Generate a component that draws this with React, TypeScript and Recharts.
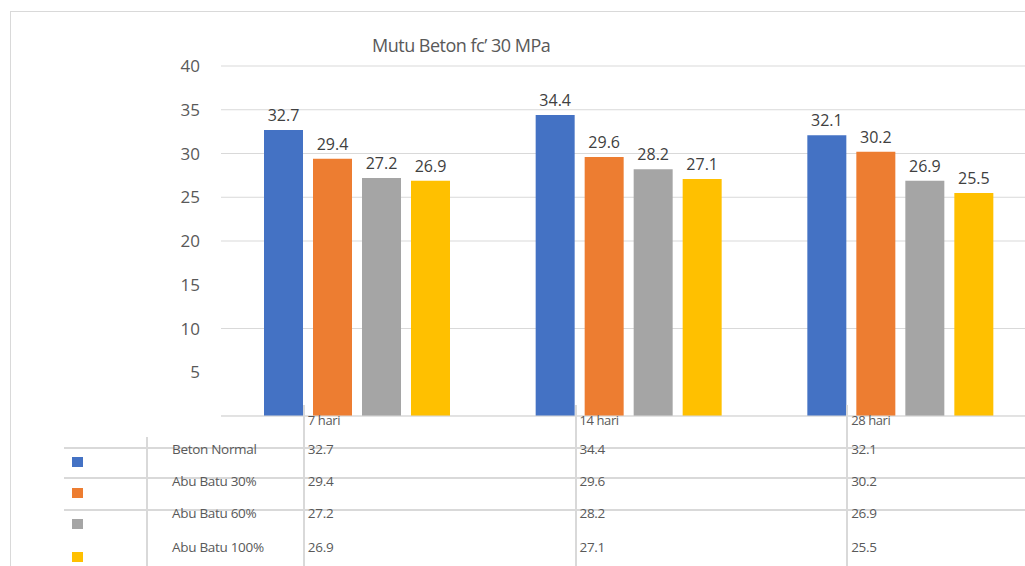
import { Bar, BarChart, CartesianGrid, LabelList, XAxis, YAxis } from "recharts";

const periods = ["7 hari", "14 hari", "28 hari"];
const seriesNames = ["Beton Normal", "Abu Batu 30%", "Abu Batu 60%", "Abu Batu 100%"];
const betonNormal = [32.7, 34.4, 32.1];
const abuBatu30 = [29.4, 29.6, 30.2];
const abuBatu60 = [27.2, 28.2, 26.9];
const abuBatu100 = [26.9, 27.1, 25.5];
const yTicks = [0, 5, 10, 15, 20, 25, 30, 35, 40];
const gridValues = [0, 10, 20, 25, 30, 35, 40];

const seriesValues = [betonNormal, abuBatu30, abuBatu60, abuBatu100];
const seriesKeys = ["normal", "abu30", "abu60", "abu100"];
const colors = ["#4472C4", "#ED7D31", "#A5A5A5", "#FFC000"];

const chartData = periods.map((period, i) => ({
  period,
  normal: betonNormal[i],
  abu30: abuBatu30[i],
  abu60: abuBatu60[i],
  abu100: abuBatu100[i],
}));

const CHART_W = 1040;
const PLOT_LEFT = 221;
const PLOT_RIGHT_MARGIN = 4;
const BAND = (CHART_W - PLOT_LEFT - PLOT_RIGHT_MARGIN) / periods.length;
// kolom tabel mulai sedikit di kiri tengah kategori
const columnLeft = (i: number) => PLOT_LEFT + (i + 0.5) * BAND - 54;

const FONT = "'Open Sans', 'Noto Sans', sans-serif";
const GRID = "#d9d9d9";
const rowTextTop = [440, 472, 504, 538];
const markerTop = [457, 488, 519, 552];

function PeriodTick(props: any) {
  const { x, y, payload } = props;
  return (
    <text x={x - 49} y={y + 7} fontSize={13} fill="#595959" fontFamily={FONT} letterSpacing={-0.4}>
      {payload.value}
    </text>
  );
}

export default function App() {
  return (
    <div style={{ position: "relative", width: 1025, height: 566, overflow: "hidden", background: "#fff", fontFamily: FONT }}>
      <style>{"body{margin:0}"}</style>
      <div style={{ position: "absolute", left: 10, top: 11, width: 1100, height: 600, borderLeft: `1px solid ${GRID}`, borderTop: `1px solid ${GRID}` }} />
      <div style={{ position: "absolute", left: 0, top: 0 }}>
        <BarChart
          width={CHART_W}
          height={566}
          data={chartData}
          margin={{ top: 66, right: PLOT_RIGHT_MARGIN, left: 0, bottom: 0 }}
          barSize={39}
          barGap={10}
        >
          <CartesianGrid vertical={false} stroke={GRID} horizontalValues={gridValues} />
          <XAxis
            dataKey="period"
            height={150}
            axisLine={{ stroke: GRID }}
            tickLine={false}
            tickSize={0}
            tick={<PeriodTick />}
          />
          <YAxis
            width={PLOT_LEFT}
            domain={[0, 40]}
            ticks={yTicks}
            interval={0}
            axisLine={false}
            tickLine={false}
            tickSize={0}
            tickMargin={21}
            tickFormatter={(v) => (v === 0 ? "" : String(v))}
            tick={{ fill: "#595959", fontSize: 17, fontFamily: FONT }}
          />
          {seriesKeys.map((key, i) => (
            <Bar key={key} dataKey={key} fill={colors[i]} name={seriesNames[i]} isAnimationActive={false}>
              <LabelList
                dataKey={key}
                position="top"
                offset={9}
                fill="#404040"
                fontSize={16}
                fontFamily={FONT}
              />
            </Bar>
          ))}
        </BarChart>
      </div>

      <div style={{ position: "absolute", left: 372, top: 33, fontSize: 18, color: "#595959", letterSpacing: -0.5, whiteSpace: "nowrap" }}>
        Mutu Beton fc’ 30 MPa
      </div>

      {[447, 477, 509].map((top) => (
        <div key={top} style={{ position: "absolute", left: 64, top, width: 1000, height: 0, borderTop: `2px solid ${GRID}` }} />
      ))}
      <div style={{ position: "absolute", left: 146, top: 437, width: 0, height: 140, borderLeft: `2px solid ${GRID}` }} />
      {periods.map((p, i) => (
        <div key={p} style={{ position: "absolute", left: columnLeft(i), top: 405, width: 0, height: 170, borderLeft: `2px solid ${GRID}` }} />
      ))}

      {seriesNames.map((name, r) => (
        <div key={name}>
          <div style={{ position: "absolute", left: 72, top: markerTop[r], width: 11, height: 10, background: colors[r] }} />
          <div style={{ position: "absolute", left: 172, top: rowTextTop[r], fontSize: 13.5, color: "#595959", letterSpacing: -0.3, whiteSpace: "nowrap" }}>
            {name}
          </div>
          {seriesValues[r].map((v, i) => (
            <div
              key={i}
              style={{ position: "absolute", left: columnLeft(i) + 5, top: rowTextTop[r], fontSize: 13.5, color: "#595959", letterSpacing: -0.3 }}
            >
              {v}
            </div>
          ))}
        </div>
      ))}
    </div>
  );
}
